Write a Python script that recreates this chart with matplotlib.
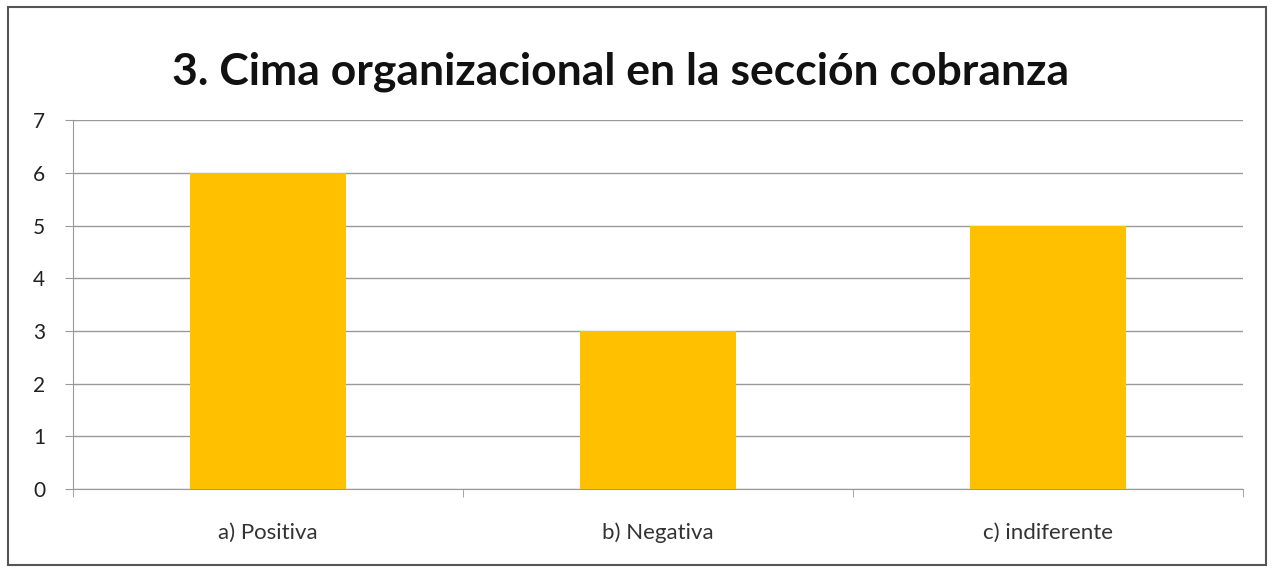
import matplotlib.pyplot as plt
from matplotlib.patches import Rectangle
import numpy as np

###### DATA ######
categories = ['a) Positiva', 'b) Negativa', 'c) indiferente']
values = [6, 3, 5]
yticks = [0, 1, 2, 3, 4, 5, 6, 7]
title = '3. Cima organizacional en la sección cobranza'

plt.rcParams['font.family'] = ['Lato', 'DejaVu Sans']

fig = plt.figure(figsize=(12.74, 5.72), dpi=100)
ax = fig.add_axes([0.0573, 0.145, 0.9184, 0.645])

x = np.arange(len(categories))
ax.bar(x, values, width=0.4, color='#FFC000', zorder=3)

ax.set_xlim(-0.5, len(categories) - 0.5)
ax.set_ylim(0, 7)
ax.set_yticks(yticks)
ax.yaxis.grid(True, color='#999999', linewidth=1.0, zorder=0)

# category labels centred, tick marks at category boundaries
ax.set_xticks(x)
ax.set_xticklabels(categories, fontsize=16, color='#333333')
ax.tick_params(axis='x', length=0, pad=24)
ax.set_xticks(np.arange(-0.5, len(categories)), minor=True)
ax.tick_params(axis='x', which='minor', length=6, color='#999999', direction='out')
ax.tick_params(axis='y', labelsize=15, length=6, color='#999999', pad=14, labelcolor='#222222')

for s in ['top', 'right']:
    ax.spines[s].set_visible(False)
for s in ['left', 'bottom']:
    ax.spines[s].set_color('#999999')

fig.text(0.487, 0.875, title, ha='center', va='center', fontsize=32, fontweight='bold', color='#111111')

# outer chart border
fig.patches.append(Rectangle((0.006, 0.012), 0.988, 0.975, transform=fig.transFigure,
                             fill=False, edgecolor='#555555', linewidth=1.5))

fig.savefig('out.png', dpi=100)
